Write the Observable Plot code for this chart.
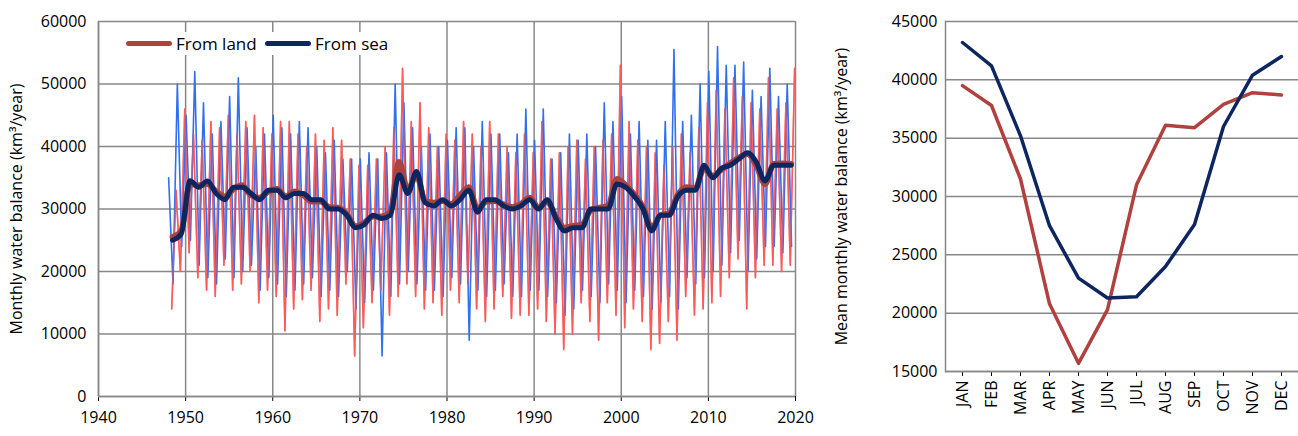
<!DOCTYPE html>
<html><head><meta charset="utf-8">
<script src="https://cdn.jsdelivr.net/npm/d3@7"></script>
<script src="https://cdn.jsdelivr.net/npm/@observablehq/plot@0.6"></script>
<style>
body{margin:0;background:#fff;font-family:"Open Sans",sans-serif;}
#wrap{position:relative;width:1298px;height:436px;}
#left{position:absolute;left:0;top:0;}
#right{position:absolute;left:822px;top:0;}
#legend{position:absolute;left:126px;top:32px;font-size:17px;display:flex;align-items:center;gap:4px;background:#fff;}
.sw{display:inline-block;width:46px;height:5px;border-radius:3px;}
</style></head><body>
<div id="wrap"><div id="left"></div><div id="right"></div>
<div id="legend"><span class="sw" style="background:#A9443F"></span>From land&nbsp;<span class="sw" style="background:#0D2660"></span>From sea</div></div>
<script>
const years = d3.range(1948, 2020);
const landMax = [33000,46000,42000,41000,44000,43000,45000,42000,44000,45000,43000,42000,44000,44000,42000,40000,42000,41000,43000,41000,38000,37000,37000,38000,40000,43000,52500,44000,47000,43000,40000,42000,41000,44000,42000,40000,44000,42000,40000,39000,42000,39000,44000,38000,39000,40000,41000,38000,40000,41000,42000,53000,44000,41000,40000,39000,37000,40000,42000,39000,43000,47000,49000,46000,51000,48000,47000,46000,51000,46000,47000,52500];
const landMin = [14000,20000,23000,19000,17000,16000,21000,17000,18000,20000,15000,17000,16000,10500,14000,15500,17000,12000,14000,13000,18000,6500,11000,15000,17000,13000,16000,18000,16000,14000,15000,13000,17000,15000,18000,14000,12000,14000,16000,12500,13000,13000,14000,12000,10000,7500,10000,15000,12000,9000,15000,13000,11000,14000,12000,7500,8500,12000,9000,16000,13000,14000,15000,16000,19000,22000,14000,19000,21000,21000,20000,21000];
const seaMax = [35000,50000,45000,52000,47000,42000,44000,48000,51000,43000,40000,42000,45000,43000,42000,44000,43000,40000,39000,41000,38000,38000,38000,39000,38000,39000,50000,47000,43000,40000,42000,40000,41000,43000,43000,40000,44000,42000,42000,39000,42000,46000,41000,46000,38000,39000,42000,41000,42000,40000,47000,44000,48000,42000,44000,41000,41000,44000,55500,44000,45000,50000,52000,56000,53000,53000,53500,49000,48000,52500,48000,50000];
const seaMin = [18000,24000,25000,21000,19000,18000,22000,19000,20000,21000,17000,19000,18000,16000,17000,18000,19000,16000,17000,16000,20000,14000,15000,17000,6500,16000,18000,20000,18000,17000,17000,16000,19000,18000,9000,17000,16000,17000,18000,16000,16000,17000,17000,16000,15000,13000,14000,17000,16000,15000,18000,17000,15000,17000,16000,14000,15000,16000,14000,19000,18000,19000,20000,21000,23000,25000,20000,22000,24000,24000,23000,24000];
const seaSmooth = [25000,26000,34500,33500,34500,32500,31500,33500,33500,32500,31500,33000,33000,31800,32500,32500,31500,31500,30000,30000,29000,27000,27500,29000,28500,29000,35500,32500,36000,31000,30500,31500,30500,31500,33000,29500,31500,31500,30500,30000,30500,31500,30000,31500,28500,26500,27000,27000,30000,30000,30000,34000,33500,32000,30000,26500,29000,29000,32000,33000,33000,37000,35000,36500,37000,38000,39000,37500,34500,37000,37000,37000];
const landSmooth = [25500,26500,34000,33800,34000,32800,32000,33200,33800,32200,31800,32800,33200,32000,32800,32200,31200,31200,30300,30200,29200,27200,27800,28800,28800,29500,37500,33000,35500,31200,31000,31300,30800,32200,33500,30000,31200,31300,30700,30300,30800,31800,30200,31200,28800,27000,27300,27500,29800,30200,30500,34800,33800,32300,30300,27000,29000,29300,32300,33500,33300,36500,35300,36300,37300,38200,38800,37000,34000,37200,37300,37200];

const months = ["JAN","FEB","MAR","APR","MAY","JUN","JUL","AUG","SEP","OCT","NOV","DEC"];
const landMean = [39500,37800,31500,20800,15700,20300,31000,36100,35900,37900,38900,38700];
const seaMean = [43200,41200,35200,27500,23000,21300,21400,24000,27600,36000,40400,42000];

const landThin = years.flatMap((y,i)=>[{x:y+0.4,v:landMin[i]},{x:y+0.9,v:landMax[i]}]);
const seaThin = years.flatMap((y,i)=>[{x:y+0.05,v:seaMax[i]},{x:y+0.55,v:seaMin[i]}]);
const seaS = years.map((y,i)=>({x:y+0.5,v:seaSmooth[i]}));
const landS = years.map((y,i)=>({x:y+0.5,v:landSmooth[i]}));
const fmt = d3.format("d");

const left = Plot.plot({
  width:822,height:436,marginLeft:98,marginRight:27,marginTop:21,marginBottom:40,
  style:{fontFamily:"Open Sans, sans-serif",fontSize:"16px",color:"#000"},
  x:{domain:[1940,2020],ticks:d3.range(1940,2021,10),tickFormat:fmt,label:null,tickSize:5,tickPadding:10},
  y:{domain:[0,60000],ticks:d3.range(0,60001,10000),tickFormat:fmt,label:"Monthly water balance (km³/year)",labelAnchor:"center",labelArrow:"none",tickSize:0,tickPadding:12,labelOffset:88},
  marks:[
    Plot.gridX({ticks:d3.range(1940,2021,10),stroke:"#888",strokeOpacity:1,strokeWidth:1.5}),
    Plot.gridY({ticks:d3.range(0,60001,10000),stroke:"#888",strokeOpacity:1,strokeWidth:1.5}),
    Plot.line(landThin,{x:"x",y:"v",stroke:"#FF5A5A",strokeWidth:1.6}),
    Plot.line(seaThin,{x:"x",y:"v",stroke:"#2F6FF0",strokeWidth:1.6}),
    Plot.line(landThin,{x:"x",y:"v",stroke:"#FF5A5A",strokeWidth:1.4,strokeOpacity:0.6}),
    Plot.line(landS,{x:"x",y:"v",stroke:"#A9443F",strokeWidth:6,curve:"monotone-x"}),
    Plot.line(seaS,{x:"x",y:"v",stroke:"#0D2660",strokeWidth:5,curve:"monotone-x"}),
    Plot.ruleX([1940],{stroke:"#888",strokeWidth:1.5}),
    Plot.ruleY([0],{stroke:"#888",strokeWidth:1.5})
  ]
});
document.getElementById("left").append(left);

const right = Plot.plot({
  width:476,height:436,marginLeft:123,marginRight:0,marginTop:21,marginBottom:65,
  style:{fontFamily:"Open Sans, sans-serif",fontSize:"16px",color:"#000"},
  x:{domain:months,type:"point",padding:0.5,label:null,tickRotate:-90,tickSize:5},
  y:{domain:[15000,45000],ticks:d3.range(15000,45001,5000),tickFormat:fmt,label:"Mean monthly water balance (km³/year)",labelAnchor:"center",labelArrow:"none",tickSize:0,tickPadding:8,labelOffset:110},
  marks:[
    Plot.gridY({ticks:d3.range(15000,45001,5000),stroke:"#888",strokeOpacity:1,strokeWidth:1.5}),
    Plot.line(months.map((m,i)=>({m,v:landMean[i]})),{x:"m",y:"v",stroke:"#B0413E",strokeWidth:3.5}),
    Plot.line(months.map((m,i)=>({m,v:seaMean[i]})),{x:"m",y:"v",stroke:"#0D2660",strokeWidth:3.5}),
    Plot.frame({anchor:"left",stroke:"#888",strokeWidth:1.5}),
    Plot.ruleY([15000],{stroke:"#888",strokeWidth:1.5})
  ]
});
document.getElementById("right").append(right);
</script></body></html>
